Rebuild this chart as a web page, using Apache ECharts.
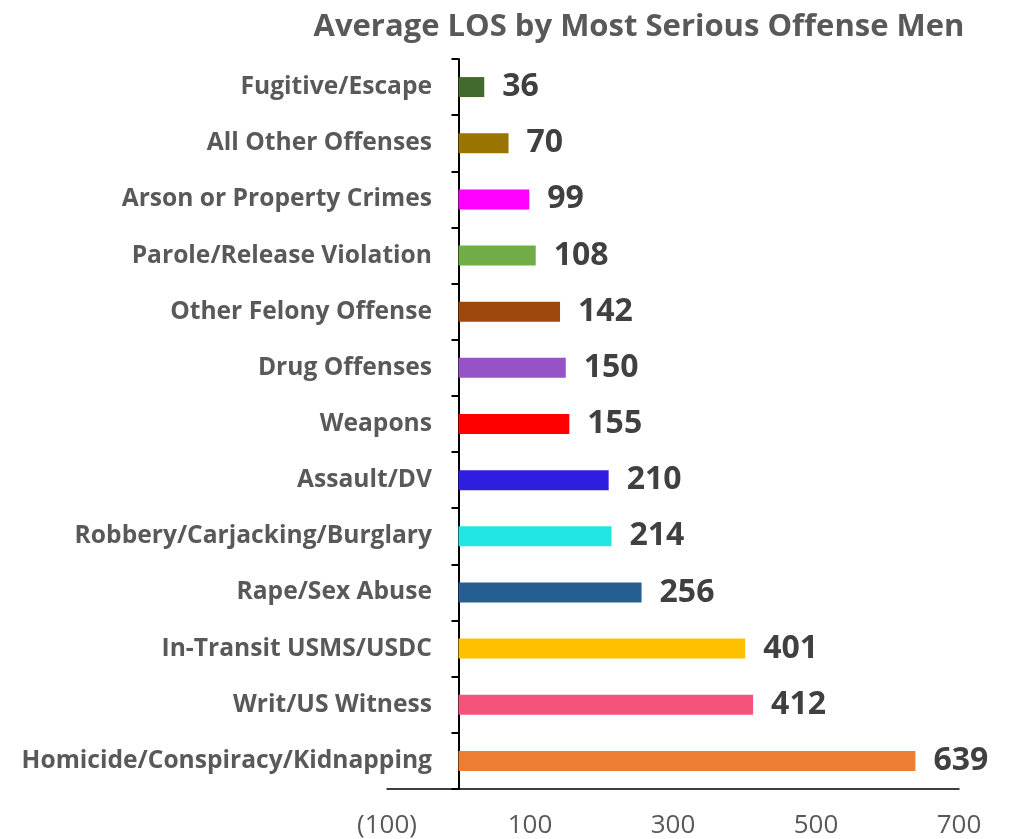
<!DOCTYPE html>
<html>
<head>
<meta charset="utf-8">
<script src="https://cdn.jsdelivr.net/npm/echarts@6/dist/echarts.min.js"></script>
<style>
html,body{margin:0;padding:0;background:#fff;}
#chart{width:1010px;height:839px;}
</style>
</head>
<body>
<div id="chart"></div>
<script>
const titleText = 'Average LOS by Most Serious Offense Men';
const categories = [
  'Fugitive/Escape',
  'All Other Offenses',
  'Arson or Property Crimes',
  'Parole/Release Violation',
  'Other Felony Offense',
  'Drug Offenses',
  'Weapons',
  'Assault/DV',
  'Robbery/Carjacking/Burglary',
  'Rape/Sex Abuse',
  'In-Transit USMS/USDC',
  'Writ/US Witness',
  'Homicide/Conspiracy/Kidnapping'
];
const values = [36, 70, 99, 108, 142, 150, 155, 210, 214, 256, 401, 412, 639];
const barColors = [
  '#426A2C', '#9A7400', '#FF00FF', '#70AD47', '#9E480E', '#9553C6', '#FF0000',
  '#2E1EE0', '#22E6E2', '#255E91', '#FFC000', '#F45479', '#ED7D31'
];
const xTickLabels = [-100, 100, 300, 500, 700];

const chart = echarts.init(document.getElementById('chart'), null, {renderer: 'canvas'});
const option = {
  animation: false,
  backgroundColor: '#ffffff',
  title: {
    text: titleText,
    left: 634,
    textAlign: 'center',
    top: 7,
    textStyle: {fontFamily: 'Open Sans', fontWeight: 'bold', fontSize: 31, color: '#595959'}
  },
  grid: {left: 387, right: 51, top: 59, bottom: 50, containLabel: false, outerBoundsMode: 'none'},
  xAxis: {
    type: 'value',
    min: -100,
    max: 700,
    interval: 100,
    axisLine: {show: true, lineStyle: {color: '#000000', width: 1.5}},
    axisTick: {show: false},
    splitLine: {show: false},
    axisLabel: {
      margin: 24,
      fontFamily: 'Open Sans',
      fontSize: 26,
      color: '#595959',
      formatter: function (v) {
        if (xTickLabels.indexOf(v) < 0) return '';
        return v < 0 ? '(' + Math.abs(v) + ')' : String(v);
      }
    }
  },
  yAxis: {
    type: 'category',
    inverse: true,
    data: categories,
    axisLine: {show: true, onZero: true, lineStyle: {color: '#000000', width: 2}},
    axisTick: {show: true, length: 7, lineStyle: {color: '#000000', width: 2}},
    axisLabel: {
      margin: -45,
      fontFamily: 'Open Sans',
      fontWeight: 'bold',
      fontSize: 24.6,
      color: '#595959'
    }
  },
  series: [{
    type: 'bar',
    data: values.map((v, i) => ({value: v, itemStyle: {color: barColors[i]}})),
    barWidth: 20,
    label: {
      show: true,
      position: 'right',
      distance: 18,
      fontFamily: 'Open Sans',
      fontWeight: 'bold',
      fontSize: 32,
      color: '#404040'
    }
  }]
};
chart.setOption(option);
</script>
</body>
</html>
